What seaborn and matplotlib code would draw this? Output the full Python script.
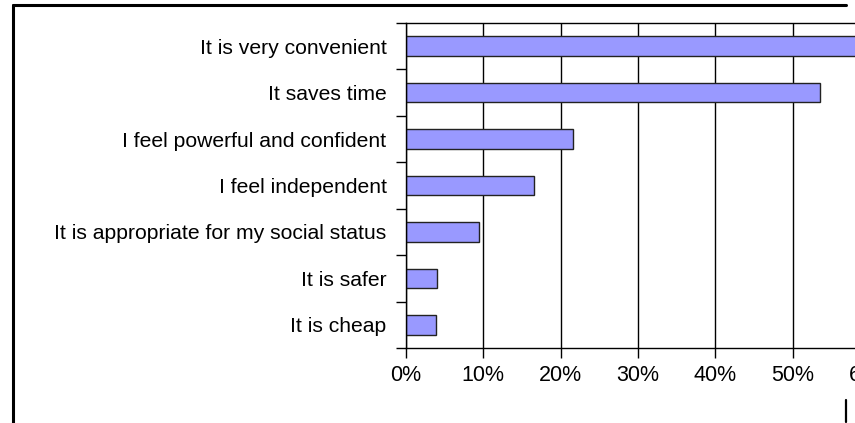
import matplotlib
matplotlib.use("Agg")
import matplotlib.pyplot as plt
from matplotlib.ticker import PercentFormatter, FixedLocator
from matplotlib.lines import Line2D
import pandas as pd
import seaborn as sns

# Reasons for using the service (share of respondents)
reasons = [
    "It is very convenient",
    "It saves time",
    "I feel powerful and confident",
    "I feel independent",
    "It is appropriate for my social status",
    "It is safer",
    "It is cheap",
]
shares = [0.59, 0.535, 0.216, 0.166, 0.094, 0.040, 0.039]
x_ticks = [0.0, 0.1, 0.2, 0.3, 0.4, 0.5, 0.6]

df = pd.DataFrame({"reason": reasons, "share": shares})

sns.set_style("white")
plt.rcParams["font.family"] = ["Liberation Sans", "DejaVu Sans"]

fig = plt.figure(figsize=(8.55, 4.23), dpi=100)
ax = fig.add_axes([406 / 855, 1 - 348 / 423, 464 / 855, 325 / 423])

sns.barplot(data=df, x="share", y="reason", orient="h", color="#9999FF",
            edgecolor="#222222", linewidth=1.0, width=0.42, saturation=1, ax=ax)

ax.set_xlim(0, 0.6)
ax.set_ylim(len(reasons) - 0.5, -0.5)
ax.set_xticks(x_ticks)
ax.xaxis.set_major_formatter(PercentFormatter(1.0, decimals=0))
ax.grid(axis="x", color="black", linewidth=1.0)
ax.set_axisbelow(True)

# category labels without marks, separators as outward ticks
ax.tick_params(axis="y", which="major", left=True, length=0, pad=14,
               labelsize=15.2, labelcolor="black")
ax.yaxis.set_minor_locator(FixedLocator([i - 0.5 for i in range(len(reasons) + 1)]))
ax.tick_params(axis="y", which="minor", left=True, length=7, width=1,
               color="black", direction="out")
ax.tick_params(axis="x", which="major", bottom=True, length=7, width=1,
               color="black", direction="out", labelsize=15.5,
               labelcolor="black", pad=5)

for side in ["left", "bottom", "top", "right"]:
    ax.spines[side].set_visible(True)
    ax.spines[side].set_color("black")
    ax.spines[side].set_linewidth(1.0)

ax.set_xlabel("")
ax.set_ylabel("")

# outer frame pieces of the original slide
fig.add_artist(Line2D([13 / 855, 13 / 855], [0, 1 - 5 / 423], color="black", lw=2.2))
fig.add_artist(Line2D([13 / 855, 846 / 855], [1 - 5 / 423, 1 - 5 / 423], color="black", lw=2.2))
fig.add_artist(Line2D([846 / 855, 846 / 855], [1 - 422 / 423, 1 - 400 / 423], color="black", lw=1.6))

fig.savefig("out.png", dpi=100)
